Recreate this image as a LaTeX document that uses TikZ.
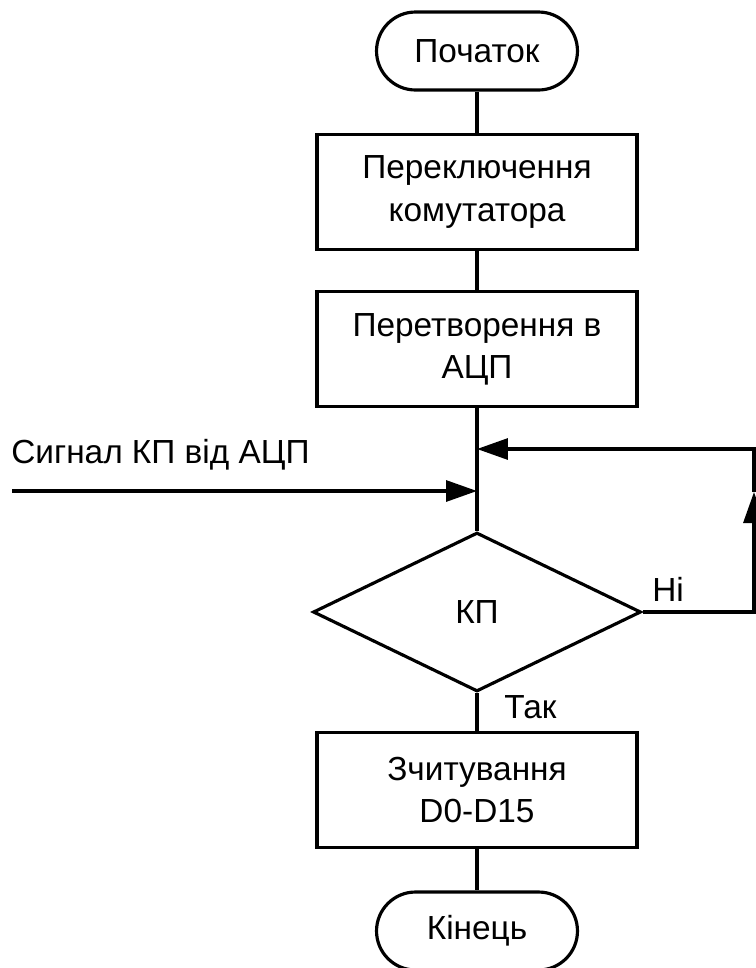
\documentclass[tikz,border=0pt]{standalone}
\usepackage{fontspec}
\setmainfont{Liberation Sans}
\usetikzlibrary{calc, arrows.meta, shapes}
\tikzset{>={Triangle[length=0.62cm, width=0.42cm]}}
\tikzset{
  block/.style={draw, line width=1.8pt, minimum width=6.4cm, minimum height=2.3cm, align=center, inner sep=0},
  term/.style={draw, line width=1.8pt, rounded corners=0.78cm, minimum width=4.02cm, minimum height=1.56cm, inner sep=0},
  decide/.style={draw, diamond, aspect=2.06, line width=1.8pt, minimum width=6.56cm, minimum height=3.18cm, inner sep=0},
  flow/.style={line width=1.8pt},
  lbl/.style={anchor=base west, inner sep=0}
}
\newcommand{\txtsize}{\fontsize{19}{24}\selectfont}

\begin{document}
\begin{tikzpicture}[x=0.02cm, y=-0.02cm, font=\txtsize]
\useasboundingbox (0,0) rectangle (755,968);
% blocks
\node[term] (start) at (477,51) {Початок};
\node[block] (switch) at (477,192) {Переключення\\комутатора};
\node[block] (convert) at (477,349) {Перетворення в\\АЦП};
\node[decide] (kp) at (477,612) {КП};
\node[block] (read) at (477,790) {Зчитування\\D0-D15};
\node[term] (stop) at (477,931) {Кінець};

% points of the loop
\coordinate (join) at (477,449);
\coordinate (sig) at (477,491);
\coordinate (src) at (12,491);
\coordinate (rb) at (754,612);
\coordinate (rmid) at (754,492);
\coordinate (rt) at (754,449);

% connectors
\draw[flow] (start) -- (switch);
\draw[flow] (switch) -- (convert);
\draw[flow] (convert) -- (kp);
\draw[flow] (kp) -- (read);
\draw[flow] (read) -- (stop);
\draw[flow, ->] (src) -- (sig);
\draw[flow, ->] (kp.east) -- (rb) -- (rmid);
\draw[flow, ->] (rmid) -- (rt) -- (join);

% labels
\node[lbl] (siglbl) at (11,463) {Сигнал КП від АЦП};
\node[lbl] (no) at (652,601) {Ні};
\node[lbl] (yes) at (504,718) {Так};
\end{tikzpicture}
\end{document}
